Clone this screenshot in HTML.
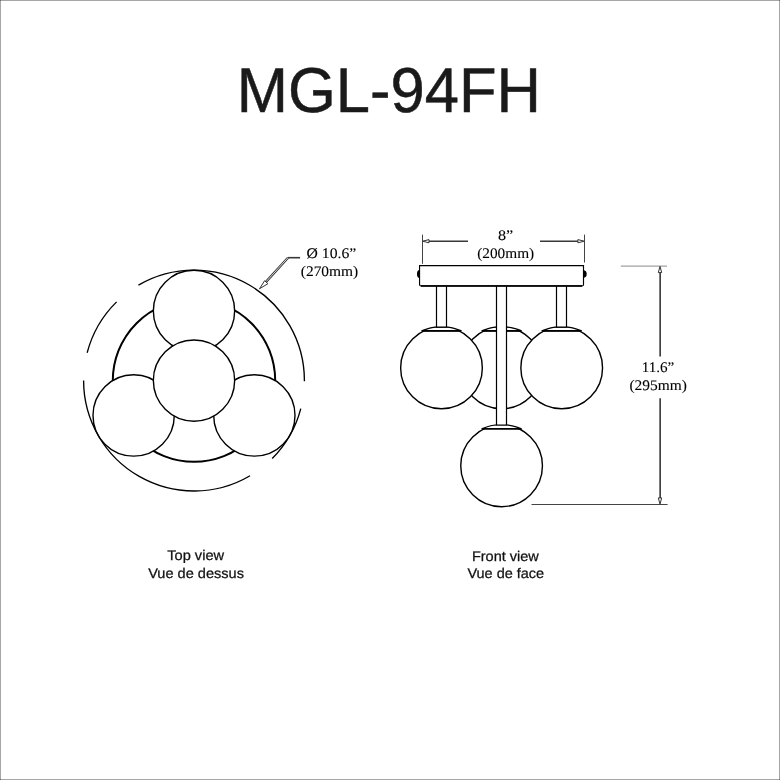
<!DOCTYPE html>
<html lang="en">
<head>
<meta charset="utf-8">
<title>MGL-94FH</title>
<style>
html,body{margin:0;padding:0;background:#fff;}
body{width:780px;height:780px;overflow:hidden;position:relative;font-family:"Liberation Sans",sans-serif;}
svg{position:absolute;left:0;top:0;display:block;will-change:transform;}
.title{font-family:"Liberation Sans",sans-serif;font-size:63.3px;text-rendering:geometricPrecision;fill:#1a1a1a;stroke:#1a1a1a;stroke-width:0.5px;}
.lbl{font-family:"Liberation Sans",sans-serif;font-size:14px;text-rendering:geometricPrecision;fill:#111;stroke:#111;stroke-width:0.25px;}
.dim{font-family:"Liberation Serif",serif;font-size:14.6px;text-rendering:geometricPrecision;fill:#000;stroke:#000;stroke-width:0.1px;}
.ln{fill:none;stroke:#000;stroke-width:1.35;}
.wf{fill:#fff;stroke:#000;stroke-width:1.4;}
.thick{fill:none;stroke:#000;stroke-width:2;}
.dl{fill:none;stroke:#383838;stroke-width:1.6;}
.ext{fill:none;stroke:#8a8a8a;stroke-width:1;}
.ext2{fill:none;stroke:#444;stroke-width:1;}
.ah{fill:#fff;stroke:#333;stroke-width:1;}
</style>
</head>
<body>
<svg width="780" height="780" viewBox="0 0 780 780">
<rect x="0" y="0" width="780" height="780" fill="#fff"/>
<g fill="#000" fill-opacity="0.35" shape-rendering="crispEdges"><rect x="0" y="0" width="780" height="1"/><rect x="0" y="779" width="780" height="1"/><rect x="0" y="0" width="1" height="780"/><rect x="779" y="0" width="1" height="780"/></g>
<text class="title" x="236.84" y="112.0" textLength="304.04" lengthAdjust="spacingAndGlyphs">MGL-94FH</text>

<!-- top view -->
<circle class="thick" cx="194.0" cy="380.6" r="81.2"/>
<g class="wf"><circle cx="194.00" cy="310.90" r="40.65"/><circle cx="133.64" cy="415.45" r="40.65"/><circle cx="254.36" cy="415.45" r="40.65"/><circle cx="194.0" cy="380.6" r="40.65"/></g>
<path class="ln" d="M138.47 285.18A110.4 110.4 0 0 1 304.40 381.18 M300.79 408.61A110.4 110.4 0 0 1 272.20 458.53 M250.03 475.72A110.4 110.4 0 0 1 83.60 380.60 M87.16 352.77A110.4 110.4 0 0 1 116.62 301.86"/>

<!-- leader -->
<path class="dl" d="M288 257.7H300.1"/>
<path d="M288 257.7L266.2 281.6" stroke="#333" stroke-width="2.4" fill="none"/>
<path d="M287.8 257.9L266.4 281.4" stroke="#fff" stroke-width="0.8" fill="none"/>
<path class="ah" d="M259.5 288.8L264.6 280.7L267.9 283.7Z"/>
<text class="dim" x="306.59" y="257.7" textLength="49.70" lengthAdjust="spacingAndGlyphs">Ø 10.6”</text>
<text class="dim" x="300.78" y="275.8" textLength="57.52" lengthAdjust="spacingAndGlyphs">(270mm)</text>

<!-- front view -->
<g class="wf">
<circle cx="501.60" cy="367.90" r="40.85"/><path d="M481.60 330.85Q490.60 327.25 496.60 327.05H506.60Q512.60 327.25 521.60 330.85Z" stroke-width="1.2"/><path d="M482.20 330.85H521.00" stroke-width="1.6" fill="none"/>
<circle cx="441.50" cy="367.90" r="40.85"/><path d="M421.50 330.85Q430.50 327.25 436.50 327.05H446.50Q452.50 327.25 461.50 330.85Z" stroke-width="1.2"/><path d="M422.10 330.85H460.90" stroke-width="1.6" fill="none"/>
<circle cx="561.70" cy="367.90" r="40.85"/><path d="M541.70 330.85Q550.70 327.25 556.70 327.05H566.70Q572.70 327.25 581.70 330.85Z" stroke-width="1.2"/><path d="M542.30 330.85H581.10" stroke-width="1.6" fill="none"/>
<path d="M436.50 286.2V327.05H446.50V286.2" stroke-width="1.2"/>
<path d="M556.50 286.2V327.05H566.50V286.2" stroke-width="1.2"/>
<circle cx="501.60" cy="465.85" r="40.85"/><path d="M481.60 428.80Q490.60 425.20 496.60 425.00H506.60Q512.60 425.20 521.60 428.80Z" stroke-width="1.2"/><path d="M482.20 428.80H521.00" stroke-width="1.6" fill="none"/>
<path d="M496.50 286.2V425.0H506.50V286.2" stroke-width="1.2"/>
<ellipse cx="419.6" cy="273.9" rx="2.6" ry="4" fill="#000" stroke="none"/>
<ellipse cx="583.4" cy="274" rx="3.3" ry="3.8" fill="#000" stroke="none"/>
<path d="M419.55 265.55H583.5V284.4Q583.5 285.9 582 285.9H421.05Q419.55 285.9 419.55 284.4Z" stroke-width="1.15"/><path d="M421 285.9H582" stroke-width="1.5" fill="none"/>
</g>

<!-- width dimension -->
<path class="ext2" d="M422.5 234.6V263.8M584.5 234.6V262.5"/>
<path class="dl" d="M428 241.2H468M540 241.2H579"/>
<path class="ah" d="M422.6 241.2L429 239.6V242.8Z"/>
<path class="ah" d="M584.3 241.2L577.9 239.6V242.8Z"/>
<text class="dim" x="497.97" y="239.6" textLength="15.23" lengthAdjust="spacingAndGlyphs">8”</text>
<text class="dim" x="477.21" y="258.3" textLength="56.99" lengthAdjust="spacingAndGlyphs">(200mm)</text>

<!-- height dimension -->
<path class="ext" d="M620.8 266.1H667"/>
<path class="ext2" d="M531.5 504.5H667.6"/>
<path class="dl" d="M660.15 272V356.5M660.15 398.2V498"/>
<path class="ah" d="M660 266.4L658.3 272.6H661.7Z"/>
<path class="ah" d="M660 504.1L658.3 497.9H661.7Z"/>
<text class="dim" x="641.67" y="371.9" textLength="32.59" lengthAdjust="spacingAndGlyphs">11.6”</text>
<text class="dim" x="629.42" y="390.4" textLength="57.43" lengthAdjust="spacingAndGlyphs">(295mm)</text>

<text class="lbl" x="167.22" y="560.0" textLength="56.89" lengthAdjust="spacingAndGlyphs">Top view</text>
<text class="lbl" x="148.20" y="577.8" textLength="95.73" lengthAdjust="spacingAndGlyphs">Vue de dessus</text>
<text class="lbl" x="471.92" y="560.9" textLength="66.95" lengthAdjust="spacingAndGlyphs">Front view</text>
<text class="lbl" x="467.42" y="578.3" textLength="76.75" lengthAdjust="spacingAndGlyphs">Vue de face</text>
</svg>
</body>
</html>
